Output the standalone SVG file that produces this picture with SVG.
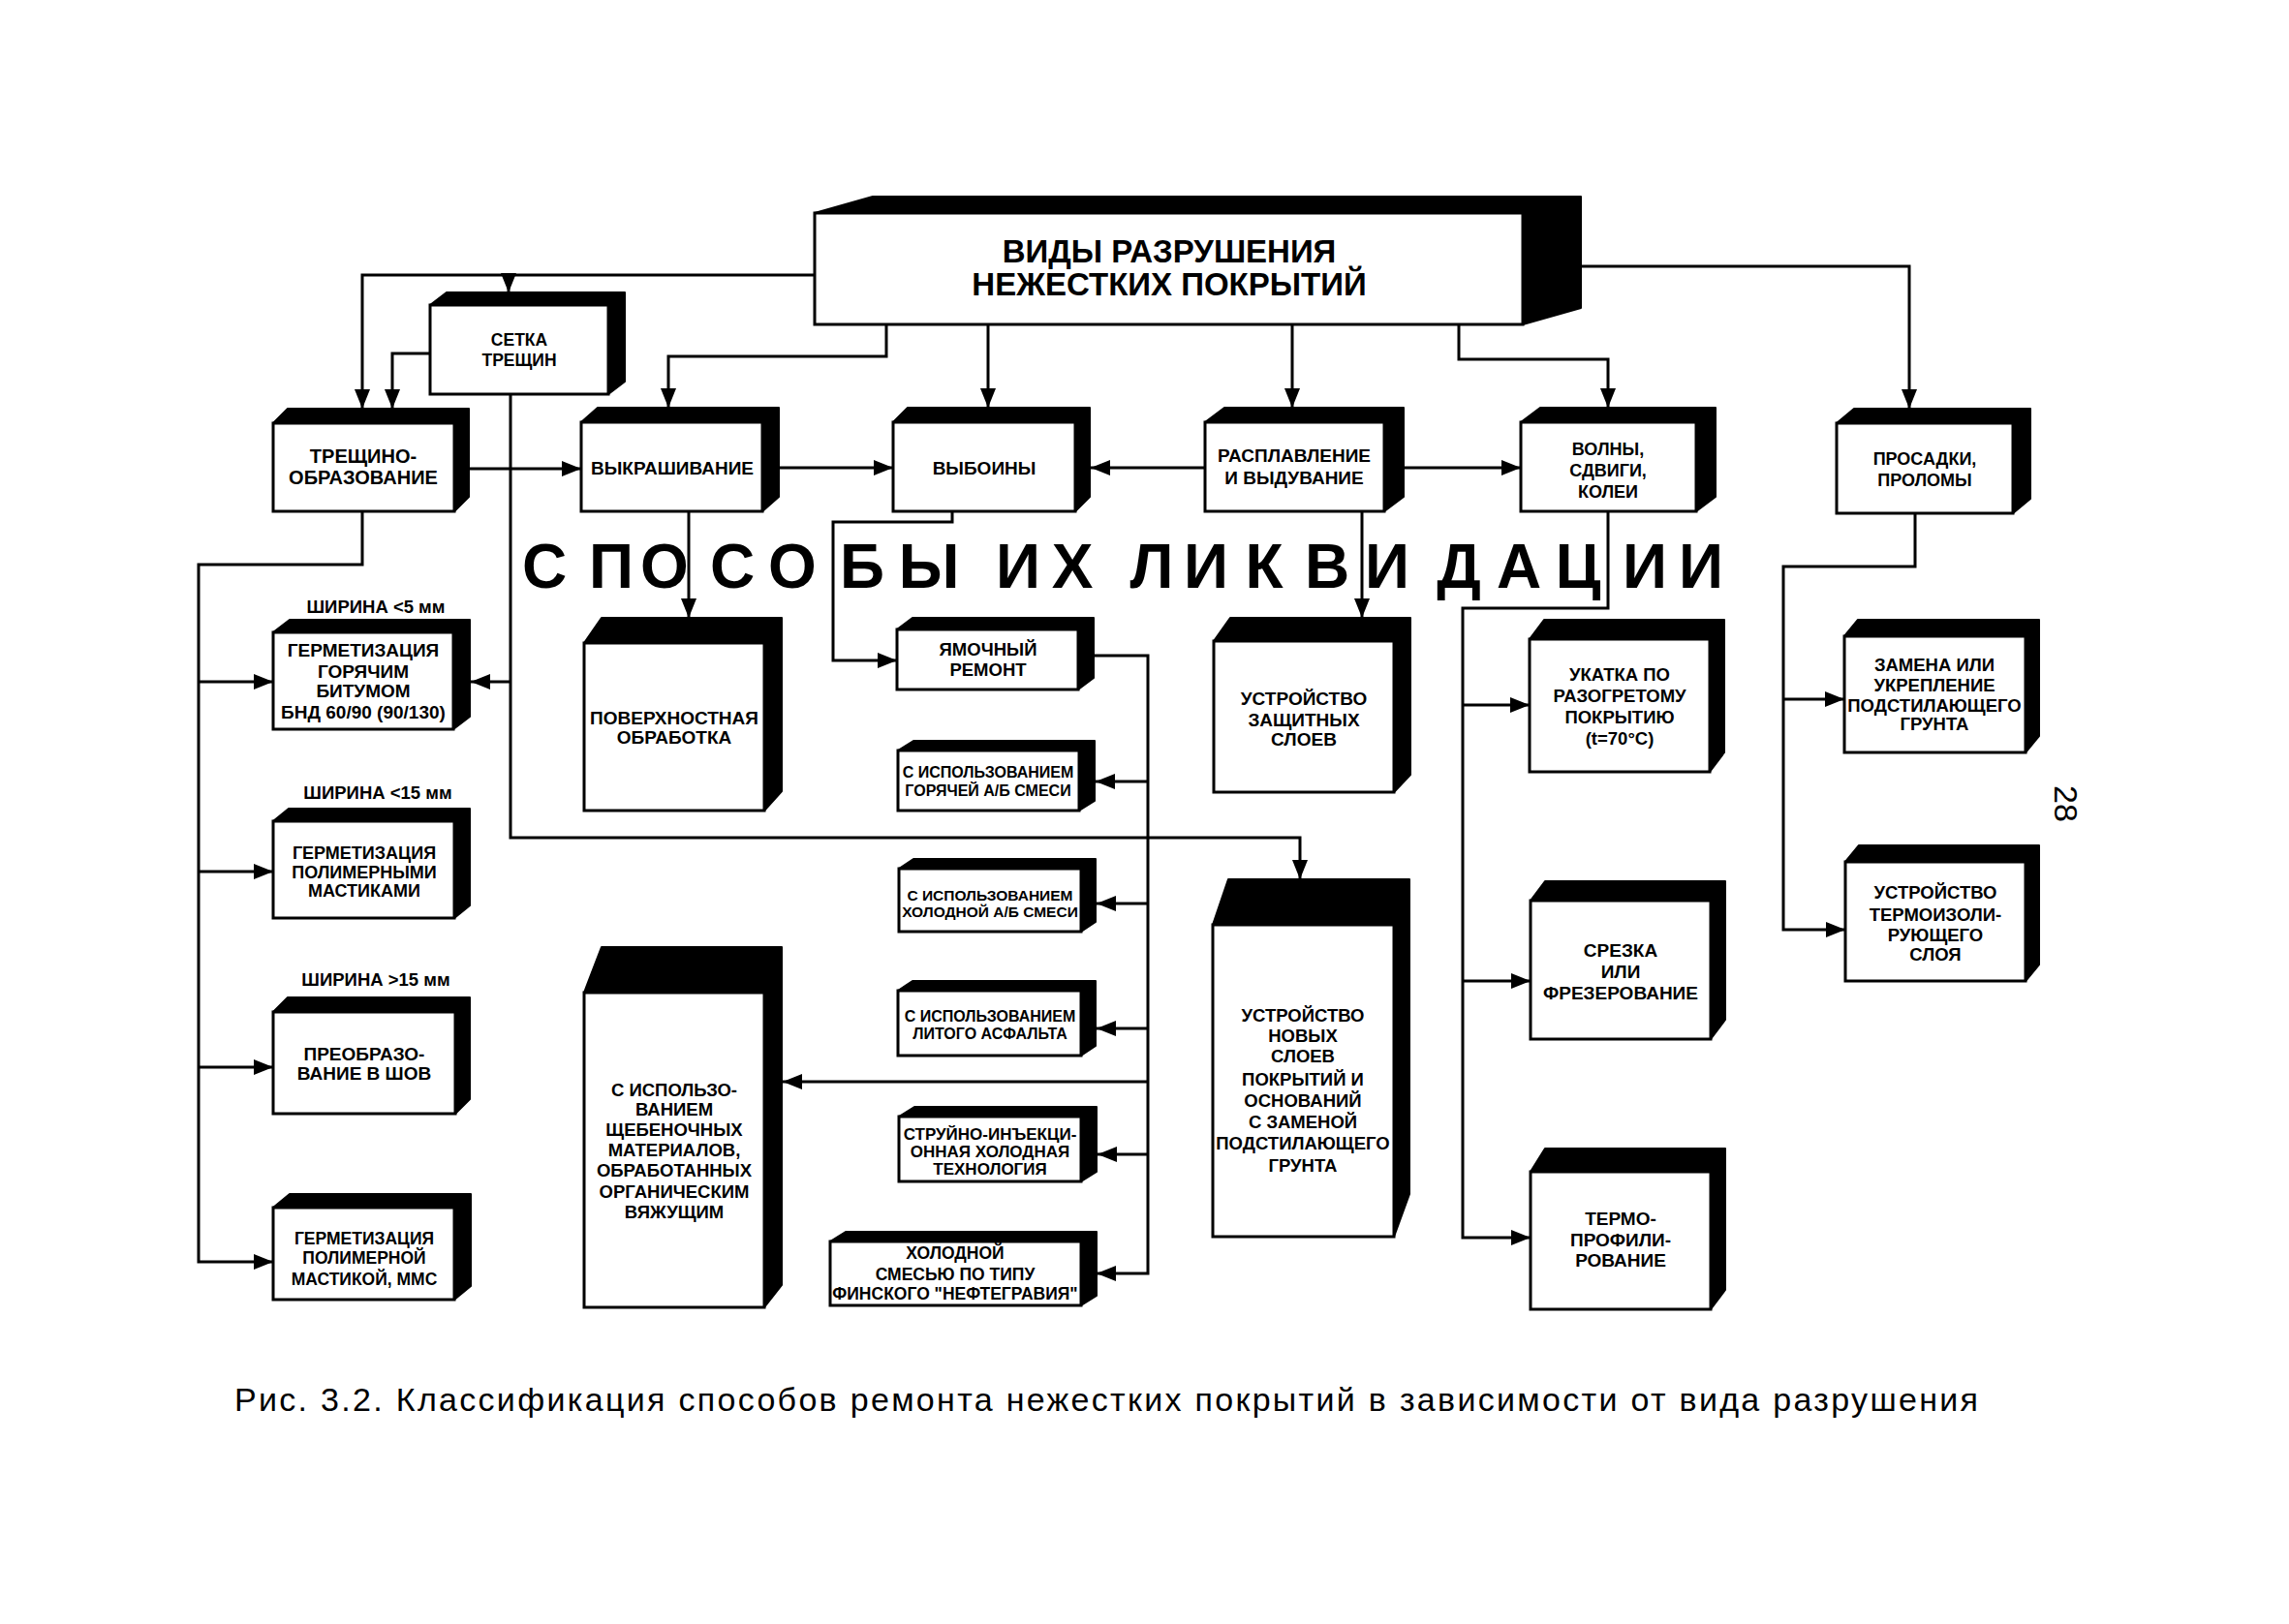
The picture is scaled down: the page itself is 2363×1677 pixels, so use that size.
<svg xmlns="http://www.w3.org/2000/svg" width="2363" height="1677" viewBox="0 0 2363 1677">
<style>
.bg{fill:#fff}
.sh{fill:#000;stroke:#000;stroke-width:2;stroke-linejoin:round}
.fr{fill:#fff;stroke:#000;stroke-width:3}
.t{font-family:"Liberation Sans",Arial,sans-serif;font-weight:bold;text-anchor:middle;fill:#000}
.s155{font-size:15.5px}.s16{font-size:16px}.s17{font-size:17px}.s175{font-size:17.5px}.s18{font-size:18px}.s185{font-size:18.5px}.s19{font-size:19px}.s20{font-size:20px}
.big{font-family:"Liberation Sans",Arial,sans-serif;font-weight:bold;font-size:64px;text-anchor:middle;fill:#000}
.cap{font-family:"Liberation Sans",Arial,sans-serif;fill:#000}
.ar{fill:none;stroke:#000;stroke-width:3;marker-end:url(#ah)}
</style>
<defs>
<marker id="ah" markerUnits="userSpaceOnUse" markerWidth="20" markerHeight="16" refX="20" refY="8" orient="auto">
<path d="M0,0 L20,8 L0,16 z" fill="#000"/>
</marker>
</defs>
<rect class="bg" x="0" y="0" width="2363" height="1677"/>

<g id="connectors">
<path class="ar" d="M841,284 H374 V422"/>
<path class="ar" d="M525,284 V302"/>
<path class="ar" d="M444,365 H405 V422"/>
<path class="ar" d="M527,407 V865 H1342 V908"/>
<path class="ar" d="M527,704 H486"/>
<path class="ar" d="M484,484 H600"/>
<path class="ar" d="M804,483 H922"/>
<path class="ar" d="M1244,483 H1126"/>
<path class="ar" d="M1449,483 H1570"/>
<path class="ar" d="M915,335 V368 H690 V421"/>
<path class="ar" d="M1020,335 V421"/>
<path class="ar" d="M1334,335 V421"/>
<path class="ar" d="M1506,335 V371 H1660 V421"/>
<path class="ar" d="M1632,275 H1971 V422"/>
<path class="ar" d="M374,528 V583 H205 V1303 H282"/>
<path class="ar" d="M205,704 H282"/>
<path class="ar" d="M205,900 H282"/>
<path class="ar" d="M205,1102 H282"/>
<path class="ar" d="M711,528 V638"/>
<path class="ar" d="M983,528 V539 H860 V682 H926"/>
<path class="ar" d="M1129,677 H1185 V1315 H1132"/>
<path class="ar" d="M1185,807 H1131"/>
<path class="ar" d="M1185,933 H1132"/>
<path class="ar" d="M1185,1062 H1132"/>
<path class="ar" d="M1185,1117 H808"/>
<path class="ar" d="M1185,1192 H1133"/>
<path class="ar" d="M1406,528 V638"/>
<path class="ar" d="M1660,528 V628 H1510 V1278 H1580"/>
<path class="ar" d="M1510,728 H1579"/>
<path class="ar" d="M1510,1013 H1580"/>
<path class="ar" d="M1977,530 V585 H1841 V960 H1905"/>
<path class="ar" d="M1841,722 H1904"/>
</g>

<g id="main">
<polygon class="sh" points="841,220 901,203 1632,203 1632,318 1572,335 1572,220"/>
<rect class="fr" x="841" y="220" width="731" height="115"/>
<text class="t" style="font-size:33px" x="1207" y="271">ВИДЫ РАЗРУШЕНИЯ</text>
<text class="t" style="font-size:33px" x="1207" y="305">НЕЖЕСТКИХ ПОКРЫТИЙ</text>
</g>

<g id="setka">
<polygon class="sh" points="444,315 461,302 645,302 645,394 628,407 628,315"/>
<rect class="fr" x="444" y="315" width="184" height="92"/>
<text class="t s175" x="536" y="357">СЕТКА</text>
<text class="t s175" x="536" y="378">ТРЕЩИН</text>
</g>

<g id="treshino">
<polygon class="sh" points="282,437 297,422 484,422 484,513 469,528 469,437"/>
<rect class="fr" x="282" y="437" width="187" height="91"/>
<text class="t s20" x="375" y="478">ТРЕЩИНО-</text>
<text class="t s20" x="375" y="500">ОБРАЗОВАНИЕ</text>
</g>

<g id="vykrash">
<polygon class="sh" points="600,436 617,421 804,421 804,513 787,528 787,436"/>
<rect class="fr" x="600" y="436" width="187" height="92"/>
<text class="t s19" x="694" y="490">ВЫКРАШИВАНИЕ</text>
</g>

<g id="vyboiny">
<polygon class="sh" points="922,436 937,421 1125,421 1125,513 1110,528 1110,436"/>
<rect class="fr" x="922" y="436" width="188" height="92"/>
<text class="t s19" x="1016" y="490">ВЫБОИНЫ</text>
</g>

<g id="raspl">
<polygon class="sh" points="1244,436 1264,421 1449,421 1449,513 1429,528 1429,436"/>
<rect class="fr" x="1244" y="436" width="185" height="92"/>
<text class="t s19" x="1336" y="477">РАСПЛАВЛЕНИЕ</text>
<text class="t s19" x="1336" y="500">И ВЫДУВАНИЕ</text>
</g>

<g id="volny">
<polygon class="sh" points="1570,436 1590,421 1771,421 1771,513 1751,528 1751,436"/>
<rect class="fr" x="1570" y="436" width="181" height="92"/>
<text class="t s18" x="1660" y="470">ВОЛНЫ,</text>
<text class="t s18" x="1660" y="492">СДВИГИ,</text>
<text class="t s18" x="1660" y="514">КОЛЕИ</text>
</g>

<g id="prosadki">
<polygon class="sh" points="1896,437 1914,422 2096,422 2096,515 2078,530 2078,437"/>
<rect class="fr" x="1896" y="437" width="182" height="93"/>
<text class="t s18" x="1987" y="480">ПРОСАДКИ,</text>
<text class="t s18" x="1987" y="502">ПРОЛОМЫ</text>
</g>

<g id="labels">
<text class="t s185" x="388" y="633">ШИРИНА &lt;5 мм</text>
<text class="t s185" x="390" y="825">ШИРИНА &lt;15 мм</text>
<text class="t s185" x="388" y="1018">ШИРИНА &gt;15 мм</text>
<text class="big" x="562 631 686 756 818 890 959 1051 1107 1189 1245 1305 1370 1432 1506 1568 1629 1698 1756" y="607">СПОСОБЫИХЛИКВИДАЦИИ</text>
</g>

<g id="germ1">
<polygon class="sh" points="282,653 299,640 485,640 485,740 468,753 468,653"/>
<rect class="fr" x="282" y="653" width="186" height="100"/>
<text class="t s19" x="375" y="678">ГЕРМЕТИЗАЦИЯ</text>
<text class="t s19" x="375" y="700">ГОРЯЧИМ</text>
<text class="t s19" x="375" y="720">БИТУМОМ</text>
<text class="t s19" x="375" y="742">БНД 60/90 (90/130)</text>
</g>

<g id="germ2">
<polygon class="sh" points="282,848 298,835 485,835 485,935 469,948 469,848"/>
<rect class="fr" x="282" y="848" width="187" height="100"/>
<text class="t s18" x="376" y="887">ГЕРМЕТИЗАЦИЯ</text>
<text class="t s18" x="376" y="907">ПОЛИМЕРНЫМИ</text>
<text class="t s18" x="376" y="926">МАСТИКАМИ</text>
</g>

<g id="preobr">
<polygon class="sh" points="282,1045 297,1030 485,1030 485,1135 470,1150 470,1045"/>
<rect class="fr" x="282" y="1045" width="188" height="105"/>
<text class="t s19" x="376" y="1095">ПРЕОБРАЗО-</text>
<text class="t s19" x="376" y="1115">ВАНИЕ В ШОВ</text>
</g>

<g id="germ3">
<polygon class="sh" points="282,1247 299,1233 486,1233 486,1328 469,1342 469,1247"/>
<rect class="fr" x="282" y="1247" width="187" height="95"/>
<text class="t s175" x="376" y="1285">ГЕРМЕТИЗАЦИЯ</text>
<text class="t s175" x="376" y="1305">ПОЛИМЕРНОЙ</text>
<text class="t s175" x="376" y="1327">МАСТИКОЙ, ММС</text>
</g>

<g id="poverkh">
<polygon class="sh" points="603,664 621,638 807,638 807,817 789,837 789,664"/>
<rect class="fr" x="603" y="664" width="186" height="173"/>
<text class="t s19" x="696" y="748">ПОВЕРХНОСТНАЯ</text>
<text class="t s19" x="696" y="768">ОБРАБОТКА</text>
</g>

<g id="scheben">
<polygon class="sh" points="603,1025 621,978 807,978 807,1327 789,1350 789,1025"/>
<rect class="fr" x="603" y="1025" width="186" height="325"/>
<text class="t s185" x="696" y="1132">С ИСПОЛЬЗО-</text>
<text class="t s185" x="696" y="1152">ВАНИЕМ</text>
<text class="t s185" x="696" y="1173">ЩЕБЕНОЧНЫХ</text>
<text class="t s185" x="696" y="1194">МАТЕРИАЛОВ,</text>
<text class="t s185" x="696" y="1215">ОБРАБОТАННЫХ</text>
<text class="t s185" x="696" y="1237">ОРГАНИЧЕСКИМ</text>
<text class="t s185" x="696" y="1258">ВЯЖУЩИМ</text>
</g>

<g id="yamoch">
<polygon class="sh" points="926,650 942,638 1129,638 1129,700 1113,712 1113,650"/>
<rect class="fr" x="926" y="650" width="187" height="62"/>
<text class="t s185" x="1020" y="677">ЯМОЧНЫЙ</text>
<text class="t s185" x="1020" y="698">РЕМОНТ</text>
</g>

<g id="goryach">
<polygon class="sh" points="927,775 943,765 1130,765 1130,827 1114,837 1114,775"/>
<rect class="fr" x="927" y="775" width="187" height="62"/>
<text class="t s16" x="1020" y="803">С ИСПОЛЬЗОВАНИЕМ</text>
<text class="t s16" x="1020" y="822">ГОРЯЧЕЙ А/Б СМЕСИ</text>
</g>

<g id="holod">
<polygon class="sh" points="928,897 943,887 1131,887 1131,952 1116,962 1116,897"/>
<rect class="fr" x="928" y="897" width="188" height="65"/>
<text class="t s155" x="1022" y="930">С ИСПОЛЬЗОВАНИЕМ</text>
<text class="t s155" x="1022" y="947">ХОЛОДНОЙ А/Б СМЕСИ</text>
</g>

<g id="litoy">
<polygon class="sh" points="927,1023 942,1013 1131,1013 1131,1080 1116,1090 1116,1023"/>
<rect class="fr" x="927" y="1023" width="189" height="67"/>
<text class="t s16" x="1022" y="1055">С ИСПОЛЬЗОВАНИЕМ</text>
<text class="t s16" x="1022" y="1073">ЛИТОГО АСФАЛЬТА</text>
</g>

<g id="struyno">
<polygon class="sh" points="928,1153 944,1143 1132,1143 1132,1210 1116,1220 1116,1153"/>
<rect class="fr" x="928" y="1153" width="188" height="67"/>
<text class="t s17" x="1022" y="1177">СТРУЙНО-ИНЪЕКЦИ-</text>
<text class="t s17" x="1022" y="1195">ОННАЯ ХОЛОДНАЯ</text>
<text class="t s17" x="1022" y="1213">ТЕХНОЛОГИЯ</text>
</g>

<g id="finsk">
<polygon class="sh" points="857,1282 873,1272 1132,1272 1132,1338 1116,1348 1116,1282"/>
<rect class="fr" x="857" y="1282" width="259" height="66"/>
<text class="t s175" x="986" y="1300">ХОЛОДНОЙ</text>
<text class="t s175" x="986" y="1322">СМЕСЬЮ  ПО ТИПУ</text>
<text class="t s175" x="986" y="1342">ФИНСКОГО "НЕФТЕГРАВИЯ"</text>
</g>

<g id="zaschit">
<polygon class="sh" points="1253,662 1270,638 1456,638 1456,800 1439,818 1439,662"/>
<rect class="fr" x="1253" y="662" width="186" height="156"/>
<text class="t s19" x="1346" y="728">УСТРОЙСТВО</text>
<text class="t s19" x="1346" y="750">ЗАЩИТНЫХ</text>
<text class="t s19" x="1346" y="770">СЛОЕВ</text>
</g>

<g id="novyh">
<polygon class="sh" points="1252,955 1268,908 1455,908 1455,1233 1439,1277 1439,955"/>
<rect class="fr" x="1252" y="955" width="187" height="322"/>
<text class="t s185" x="1345" y="1055">УСТРОЙСТВО</text>
<text class="t s185" x="1345" y="1076">НОВЫХ</text>
<text class="t s185" x="1345" y="1097">СЛОЕВ</text>
<text class="t s185" x="1345" y="1121">ПОКРЫТИЙ И</text>
<text class="t s185" x="1345" y="1143">ОСНОВАНИЙ</text>
<text class="t s185" x="1345" y="1165">С ЗАМЕНОЙ</text>
<text class="t s185" x="1345" y="1187">ПОДСТИЛАЮЩЕГО</text>
<text class="t s185" x="1345" y="1210">ГРУНТА</text>
</g>

<g id="ukatka">
<polygon class="sh" points="1579,660 1594,640 1780,640 1780,777 1765,797 1765,660"/>
<rect class="fr" x="1579" y="660" width="186" height="137"/>
<text class="t s185" x="1672" y="703">УКАТКА ПО</text>
<text class="t s185" x="1672" y="725">РАЗОГРЕТОМУ</text>
<text class="t s185" x="1672" y="747">ПОКРЫТИЮ</text>
<text class="t s185" x="1672" y="769">(t=70°C)</text>
</g>

<g id="srezka">
<polygon class="sh" points="1580,930 1595,910 1781,910 1781,1053 1766,1073 1766,930"/>
<rect class="fr" x="1580" y="930" width="186" height="143"/>
<text class="t s19" x="1673" y="988">СРЕЗКА</text>
<text class="t s19" x="1673" y="1010">ИЛИ</text>
<text class="t s19" x="1673" y="1032">ФРЕЗЕРОВАНИЕ</text>
</g>

<g id="termoprof">
<polygon class="sh" points="1580,1210 1595,1186 1781,1186 1781,1332 1766,1352 1766,1210"/>
<rect class="fr" x="1580" y="1210" width="186" height="142"/>
<text class="t s19" x="1673" y="1265">ТЕРМО-</text>
<text class="t s19" x="1673" y="1287">ПРОФИЛИ-</text>
<text class="t s19" x="1673" y="1308">РОВАНИЕ</text>
</g>

<g id="zamena">
<polygon class="sh" points="1904,657 1918,640 2105,640 2105,760 2091,777 2091,657"/>
<rect class="fr" x="1904" y="657" width="187" height="120"/>
<text class="t s185" x="1997" y="693">ЗАМЕНА ИЛИ</text>
<text class="t s185" x="1997" y="714">УКРЕПЛЕНИЕ</text>
<text class="t s185" x="1997" y="735">ПОДСТИЛАЮЩЕГО</text>
<text class="t s185" x="1997" y="754">ГРУНТА</text>
</g>

<g id="termoizol">
<polygon class="sh" points="1905,890 1919,873 2105,873 2105,996 2091,1013 2091,890"/>
<rect class="fr" x="1905" y="890" width="186" height="123"/>
<text class="t s185" x="1998" y="928">УСТРОЙСТВО</text>
<text class="t s185" x="1998" y="951">ТЕРМОИЗОЛИ-</text>
<text class="t s185" x="1998" y="972">РУЮЩЕГО</text>
<text class="t s185" x="1998" y="992">СЛОЯ</text>
</g>

<text class="cap" style="font-size:34px;text-anchor:middle" transform="translate(2121,830) rotate(90)" x="0" y="0">28</text>
<text class="cap" style="font-size:34px" x="242" y="1457" textLength="1800" lengthAdjust="spacing">Рис. 3.2. Классификация способов ремонта нежестких покрытий в зависимости от вида разрушения</text>
</svg>
